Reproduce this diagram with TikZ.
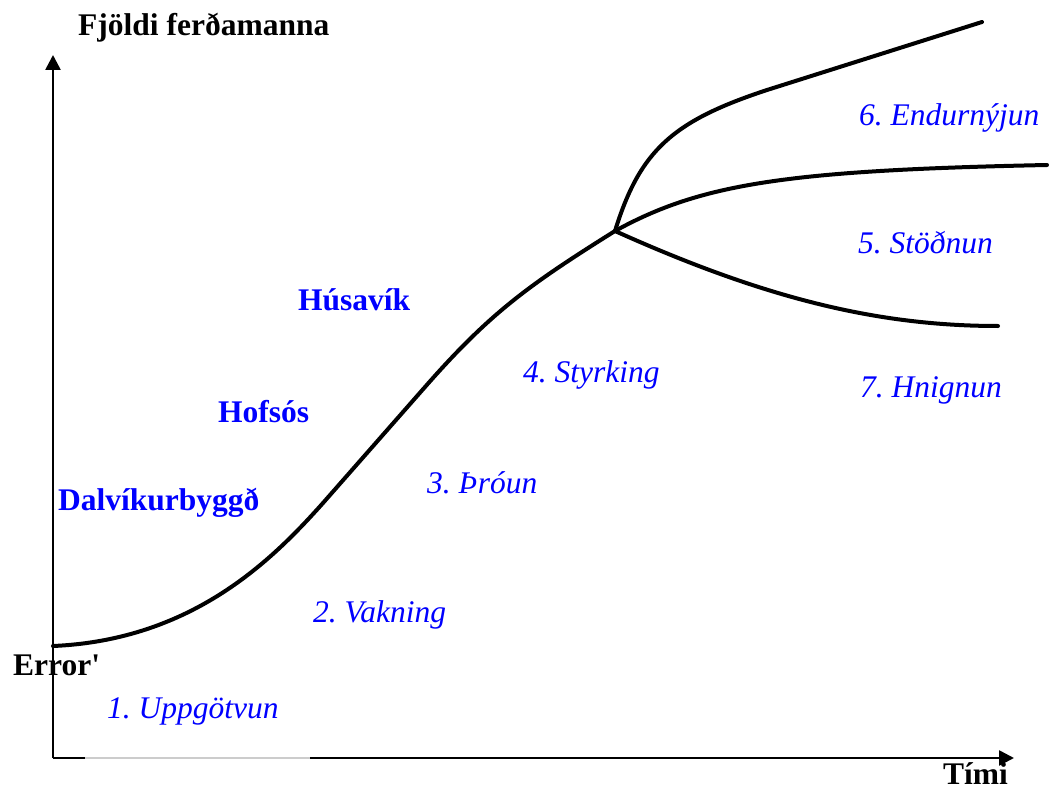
\documentclass[tikz,border=0pt]{standalone}
\usepackage{fontspec}
\setmainfont{Liberation Serif}
\usetikzlibrary{arrows.meta}
\frenchspacing
\begin{document}
\begin{tikzpicture}[x=1pt,y=-1pt,
  lbl/.style={inner sep=0pt, anchor=base west, font=\fontsize{31.5}{36}\selectfont},
  boldlbl/.style={lbl, font=\fontsize{31.5}{36}\selectfont\bfseries},
  place/.style={boldlbl, text=blue},
  phase/.style={lbl, text=blue, font=\fontsize{31.5}{36}\selectfont\itshape},
  axisline/.style={line width=2.6pt},
  axisarrow/.style={axisline, -{Triangle[length=15pt,width=15pt]}},
  curve/.style={line width=4pt, line cap=round, line join=round}]
\useasboundingbox (0,0) rectangle (1050,789);

% axes
\coordinate (O) at (53,758);
\coordinate (ytip) at (53,55);
\coordinate (g1) at (85,758);
\coordinate (g2) at (310,758);
\coordinate (xtip) at (1014,758);
\draw[axisarrow] (O) -- (ytip);
\draw[axisline] (O) -- (g1);
\draw[line width=1.2pt, black!20] (g1) -- (g2);
\draw[axisarrow] (g2) -- (xtip);

% curves
\coordinate (S) at (53,646);
\coordinate (M1) at (323,503);
\coordinate (M2) at (425,387);
\coordinate (B) at (615,231);
\coordinate (U1) at (767,90);
\coordinate (Uend) at (982,22);
\coordinate (Mend) at (1047,165);
\coordinate (Lend) at (998,326);
\draw[curve] (S) .. controls (193,640) and (273,559) .. (M1) -- (M2)
  .. controls (490,313) and (528,285.5) .. (B);
\draw[curve] (B) .. controls (640,150) and (673,121) .. (U1) -- (Uend);
\draw[curve] (B) .. controls (701,183.5) and (788,170.3) .. (Mend);
\draw[curve] (B) .. controls (765,298.5) and (878,326) .. (Lend);

% axis labels
\node[boldlbl] (ylab) at (78,36) {Fjöldi ferðamanna};
\node[boldlbl] (xlab) at (943,784) {Tími};
\node[boldlbl] (err) at (13,675) {Error\textquotesingle};

% places
\node[place] (dal) at (58,510) {Dalvíkurbyggð};
\node[place] (hof) at (218,422) {Hofsós};
\node[place] (hus) at (298,310) {Húsavík};

% phases
\node[phase] (p1) at (107,718) {1. Uppgötvun};
\node[phase] (p2) at (313,622) {2. Vakning};
\node[phase] (p3) at (427,493) {3. Þróun};
\node[phase] (p4) at (523,382) {4. Styrking};
\node[phase] (p5) at (858,253) {5. Stöðnun};
\node[phase] (p6) at (859,126) {6. Endurnýjun};
\node[phase] (p7) at (860,397) {7. Hnignun};
\end{tikzpicture}
\end{document}
